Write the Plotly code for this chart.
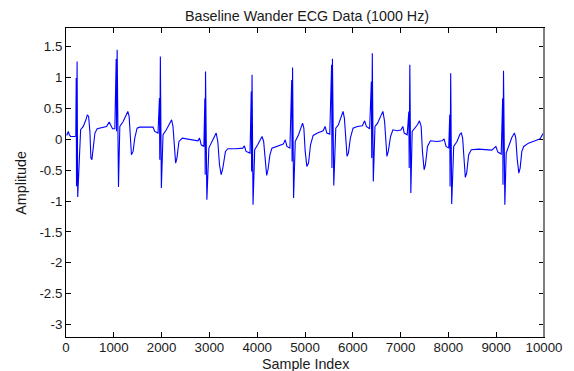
import plotly.graph_objects as go

# Sample index / amplitude points
sample_idx = [
    14, 49, 70, 97, 188, 205, 214, 220, 232, 245,
    306, 361, 417, 445, 473, 500, 521, 542, 570, 605, 653, 709, 848, 904, 938, 973, 1022,
    1050, 1058, 1070, 1098,
    1126, 1196, 1251, 1293, 1321, 1348, 1369, 1404, 1439, 1487, 1543, 1821, 1856, 1925,
    1955, 1962, 1974, 1995,
    2030, 2099, 2168, 2210, 2238, 2273, 2294, 2321, 2363, 2433, 2516, 2655, 2759, 2794, 2829, 2884,
    2905, 2912, 2919, 2947,
    2989, 3037, 3093, 3142, 3176, 3211, 3246, 3281, 3336, 3385, 3559, 3698, 3732, 3767, 3850,
    3876, 3883, 3892, 3913,
    3948, 4010, 4059, 4101, 4135, 4170, 4198, 4226, 4267, 4309, 4427, 4545, 4587, 4622, 4684,
    4722, 4730, 4740, 4761,
    4796, 4865, 4921, 4949, 4976, 5004, 5039, 5074, 5115, 5171, 5261, 5379, 5421, 5456, 5518,
    5557, 5564, 5574, 5602,
    5644, 5699, 5755, 5796, 5824, 5852, 5880, 5908, 5949, 6005, 6095, 6200, 6248, 6283, 6352,
    6388, 6396, 6408, 6429,
    6464, 6519, 6582, 6630, 6665, 6686, 6714, 6742, 6790, 6839, 6929, 7006, 7047, 7075, 7138,
    7172, 7180, 7193, 7214,
    7242, 7298, 7353, 7395, 7430, 7457, 7492, 7520, 7562, 7624, 7763, 7868, 7909, 7951, 8007,
    8028, 8035, 8048, 8069,
    8111, 8180, 8243, 8271, 8298, 8326, 8354, 8382, 8424, 8479, 8632, 8910, 8993, 9035, 9105,
    9135, 9142, 9153, 9181,
    9209, 9271, 9327, 9383, 9410, 9438, 9473, 9501, 9536, 9577, 9675, 9814, 9918, 9966, 9990,
]
amplitude = [
    0.06, 0.126, 0.07, 0.045, 0.045, 0.05, 0.99, -0.76, 1.258, -0.936,
    0.153, 0.207, 0.315, 0.395, 0.37, 0.126, -0.305, -0.33, -0.14, 0.10, 0.17, 0.18, 0.207, 0.277, 0.234, 0.17, 0.17,
    1.30, 0.13, 1.447, -0.774,
    0.207, 0.288, 0.395, 0.45, 0.37, -0.036, -0.25, -0.197, 0.018, 0.18, 0.196, 0.196, 0.126, 0.10,
    0.665, -0.33, 1.339, -0.79,
    0.072, 0.153, 0.26, 0.315, 0.207, -0.197, -0.386, -0.305, -0.036, 0.018, 0.007, -0.014, -0.025, 0.018, -0.09, -0.117,
    0.665, -0.575, 1.096, -0.979,
    -0.144, -0.063, 0.029, 0.10, -0.036, -0.413, -0.575, -0.467, -0.197, -0.154, -0.154, -0.144, -0.106, -0.197, -0.224,
    0.773, -0.521, 1.042, -1.06,
    -0.17, -0.09, -0.009, 0.045, -0.036, -0.413, -0.585, -0.494, -0.25, -0.144, -0.117, -0.079, -0.009, -0.117, -0.144,
    0.96, -0.36, 1.161, -0.952,
    -0.036, 0.072, 0.207, 0.26, 0.18, -0.197, -0.44, -0.386, -0.09, 0.061, 0.10, 0.137, 0.207, 0.10, 0.083,
    1.204, -0.467, 1.301, -0.747,
    0.18, 0.234, 0.37, 0.45, 0.342, -0.036, -0.278, -0.224, 0.018, 0.18, 0.207, 0.218, 0.298, 0.207, 0.17,
    0.935, -0.305, 1.393, -0.683,
    0.207, 0.26, 0.37, 0.45, 0.288, -0.036, -0.278, -0.197, 0.045, 0.153, 0.137, 0.148, 0.207, 0.10, 0.072,
    0.45, -0.467, 1.204, -0.871,
    0.126, 0.18, 0.234, 0.298, 0.207, -0.197, -0.494, -0.413, -0.117, -0.025, -0.036, -0.025, 0.007, -0.117, -0.144,
    0.396, -0.763, 1.069, -1.049,
    -0.117, -0.036, 0.083, 0.10, 0.018, -0.359, -0.618, -0.548, -0.25, -0.17, -0.16, -0.176, -0.117, -0.208, -0.24,
    0.665, -0.736, 1.107, -1.06,
    -0.224, -0.09, 0.029, 0.10, 0.018, -0.305, -0.548, -0.467, -0.197, -0.117, -0.063, -0.025, 0.007, 0.072, 0.10,
]

x_tick_vals = [0, 1000, 2000, 3000, 4000, 5000, 6000, 7000, 8000, 9000, 10000]
x_tick_text = ["0", "1000", "2000", "3000", "4000", "5000", "6000", "7000", "8000", "9000", "10000"]
y_tick_vals = [1.5, 1, 0.5, 0, -0.5, -1, -1.5, -2, -2.5, -3]
y_tick_text = ["1.5", "1", "0.5", "0", "-0.5", "-1", "-1.5", "-2", "-2.5", "-3"]

FONT = "Liberation Sans, Arial, sans-serif"
TXT = "#1a1a1a"

fig = go.Figure()
fig.add_trace(go.Scatter(
    x=sample_idx, y=amplitude, mode="lines",
    line=dict(color="#0000ff", width=1.1),
    hoverinfo="skip", showlegend=False,
))

axis_common = dict(
    showline=True, linecolor="black", linewidth=1, mirror="ticks",
    ticks="inside", ticklen=5, tickcolor="black", tickwidth=1,
    showgrid=False, zeroline=False,
    tickfont=dict(family=FONT, size=13.3, color=TXT),
)

W, H = 574, 371
L, R, T, B = 66, 28, 28, 34
plot_h = H - T - B
plot_w = W - L - R

fig.update_layout(
    width=W, height=H,
    margin=dict(l=L, r=R, t=T, b=B),
    paper_bgcolor="white", plot_bgcolor="white",
    title=dict(text="Baseline Wander ECG Data (1000 Hz)", x=307 / W, xanchor="center",
               y=1 - 15.5 / H, yanchor="middle", yref="container",
               font=dict(family=FONT, size=14.3, color=TXT)),
    xaxis=dict(range=[0, 10000], tickvals=x_tick_vals, ticktext=x_tick_text,
               ticklabelstandoff=-2, **axis_common),
    yaxis=dict(range=[-3.2, 1.8], tickvals=y_tick_vals, ticktext=y_tick_text, **axis_common),
    annotations=[
        dict(text="Sample Index", xref="paper", yref="paper",
             x=0.5, y=(H - B - 364.5) / plot_h, xanchor="center", yanchor="middle",
             showarrow=False, font=dict(family=FONT, size=14.3, color=TXT)),
        dict(text="Amplitude", xref="paper", yref="paper",
             x=(20 - L) / plot_w, y=0.5, xanchor="center", yanchor="middle",
             textangle=-90, showarrow=False, font=dict(family=FONT, size=14.3, color=TXT)),
    ],
    shapes=[dict(type="line", xref="paper", yref="paper", x0=1, x1=1, y0=0, y1=1,
                 line=dict(color="#808080", width=2))],
)

fig.write_html("out.html")
